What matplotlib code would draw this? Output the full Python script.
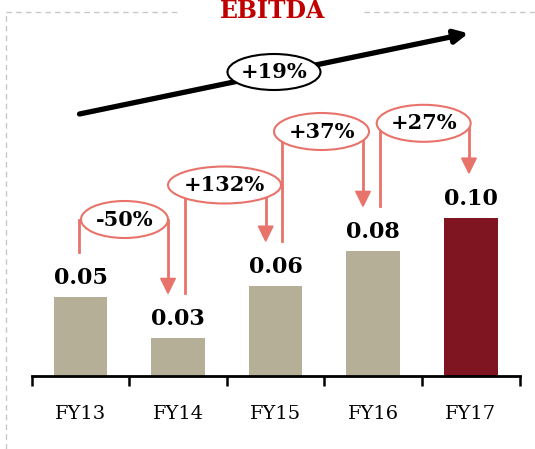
import matplotlib
matplotlib.use("Agg")
import matplotlib.pyplot as plt
from matplotlib.patches import Ellipse, Polygon
from matplotlib.lines import Line2D

# ---- data ----
categories = ["FY13", "FY14", "FY15", "FY16", "FY17"]
values = [0.050, 0.024, 0.057, 0.079, 0.100]
value_labels = ["0.05", "0.03", "0.06", "0.08", "0.10"]
growth_labels = ["-50%", "+132%", "+37%", "+27%"]
cagr_label = "+19%"
title = "EBITDA"

# ---- style ----
TAN = "#B6AF98"
DARK = "#7F1520"
SALMON = "#E8736A"
TITLE_RED = "#C00000"
bar_colors = [TAN, TAN, TAN, TAN, DARK]

W, H = 535, 449
fig = plt.figure(figsize=(W / 100, H / 100), dpi=100)

# axes: x from 31.7px to 519.6px, baseline at 376px from top, up to figure top
ax_left = 31.7 / W
ax_width = (519.6 - 31.7) / W
ax_bottom = (H - 376) / H
ax_height = 376 / H
ax = fig.add_axes([ax_left, ax_bottom, ax_width, ax_height])
ax.set_xlim(-0.5, 4.5)
px_per_unit = 158.3 / 0.10
ymax = 376 / px_per_unit
ax.set_ylim(0, ymax)

x = list(range(len(categories)))
ax.bar(x, values, width=0.55, color=bar_colors, zorder=2)

serif = ["DejaVu Serif"]
for xi, v, lab in zip(x, values, value_labels):
    ax.text(xi, v + 13 / px_per_unit, lab, ha="center", va="baseline",
            fontsize=16, fontweight="bold", family=serif, color="black", zorder=5)

# axis styling
for s in ["top", "right", "left"]:
    ax.spines[s].set_visible(False)
ax.spines["bottom"].set_linewidth(2)
ax.spines["bottom"].set_color("black")
ax.set_yticks([])
ax.set_xticks([-0.5, 0.5, 1.5, 2.5, 3.5, 4.5])
ax.set_xticklabels([])
ax.tick_params(axis="x", direction="out", length=7, width=1.8, color="black")
for xi, c in zip(x, categories):
    ax.text(xi, -38 / px_per_unit, c, ha="center", va="center", fontsize=14,
            family=serif, color="black", clip_on=False)

# ---- growth brackets ----
dy = 44.6 / px_per_unit
ell_cx = [0.451, 1.476, 2.47, 3.517]
ell_cy = [156.5 / px_per_unit, 191 / px_per_unit, 244.5 / px_per_unit, 252.7 / px_per_unit]
ell_w = [0.892, 1.158, 0.974, 0.963]
ell_h = 37 / px_per_unit
left_x = [-0.018, 1.071, 2.062, 3.069]
right_x = [0.897, 1.898, 2.895, 3.981]
head_h = 15 / px_per_unit
head_w = 0.075

for i, lab in enumerate(growth_labels):
    y0 = values[i] + dy
    y1 = values[i + 1] + dy
    cy = ell_cy[i]
    ax.add_line(Line2D([left_x[i], left_x[i]], [y0, cy], color=SALMON, lw=2, zorder=3))
    ax.add_line(Line2D([right_x[i], right_x[i]], [cy, y1 + head_h * 0.9], color=SALMON,
                       lw=2, zorder=3))
    tri = Polygon([[right_x[i] - head_w, y1 + head_h], [right_x[i] + head_w, y1 + head_h],
                   [right_x[i], y1]], closed=True, color=SALMON, zorder=3)
    ax.add_patch(tri)
    e = Ellipse((ell_cx[i], cy), ell_w[i], ell_h, facecolor="white", edgecolor=SALMON,
                lw=1.5, zorder=4)
    ax.add_patch(e)
    ax.text(ell_cx[i], cy, lab, ha="center", va="center", fontsize=15,
            fontweight="bold", family=serif, zorder=5)

# ---- CAGR arrow ----
ax_x0, ax_y0 = -0.01, 262 / px_per_unit
ax_x1, ax_y1 = 3.975, 342.7 / px_per_unit
ax.annotate("", xy=(ax_x1, ax_y1), xytext=(ax_x0, ax_y0),
            arrowprops=dict(arrowstyle="-|>,head_length=0.8,head_width=0.4",
                            color="black", lw=3.8, shrinkA=0, shrinkB=0),
            zorder=3)
e = Ellipse((1.983, 304 / px_per_unit), 93 / 97.58, 36 / px_per_unit, facecolor="white",
            edgecolor="black", lw=1.5, zorder=4)
ax.add_patch(e)
ax.text(1.983, 304 / px_per_unit, cagr_label, ha="center", va="center", fontsize=15,
        fontweight="bold", family=serif, zorder=5)

# ---- dashed frame and title ----
frame_kw = dict(color="#C8C8C8", lw=1, ls=(0, (4, 3)), transform=fig.transFigure)
fx = 6 / W
fy = 1 - 12 / H
fig.add_artist(Line2D([fx, fx], [0, fy], **frame_kw))
fig.add_artist(Line2D([fx, 181 / W], [fy, fy], **frame_kw))
fig.add_artist(Line2D([364 / W, 1], [fy, fy], **frame_kw))
fig.text(273 / W, 1 - 18.5 / H, title, ha="center", va="baseline", fontsize=17,
         fontweight="bold", family=serif, color=TITLE_RED)

fig.savefig("out.png", dpi=100)
